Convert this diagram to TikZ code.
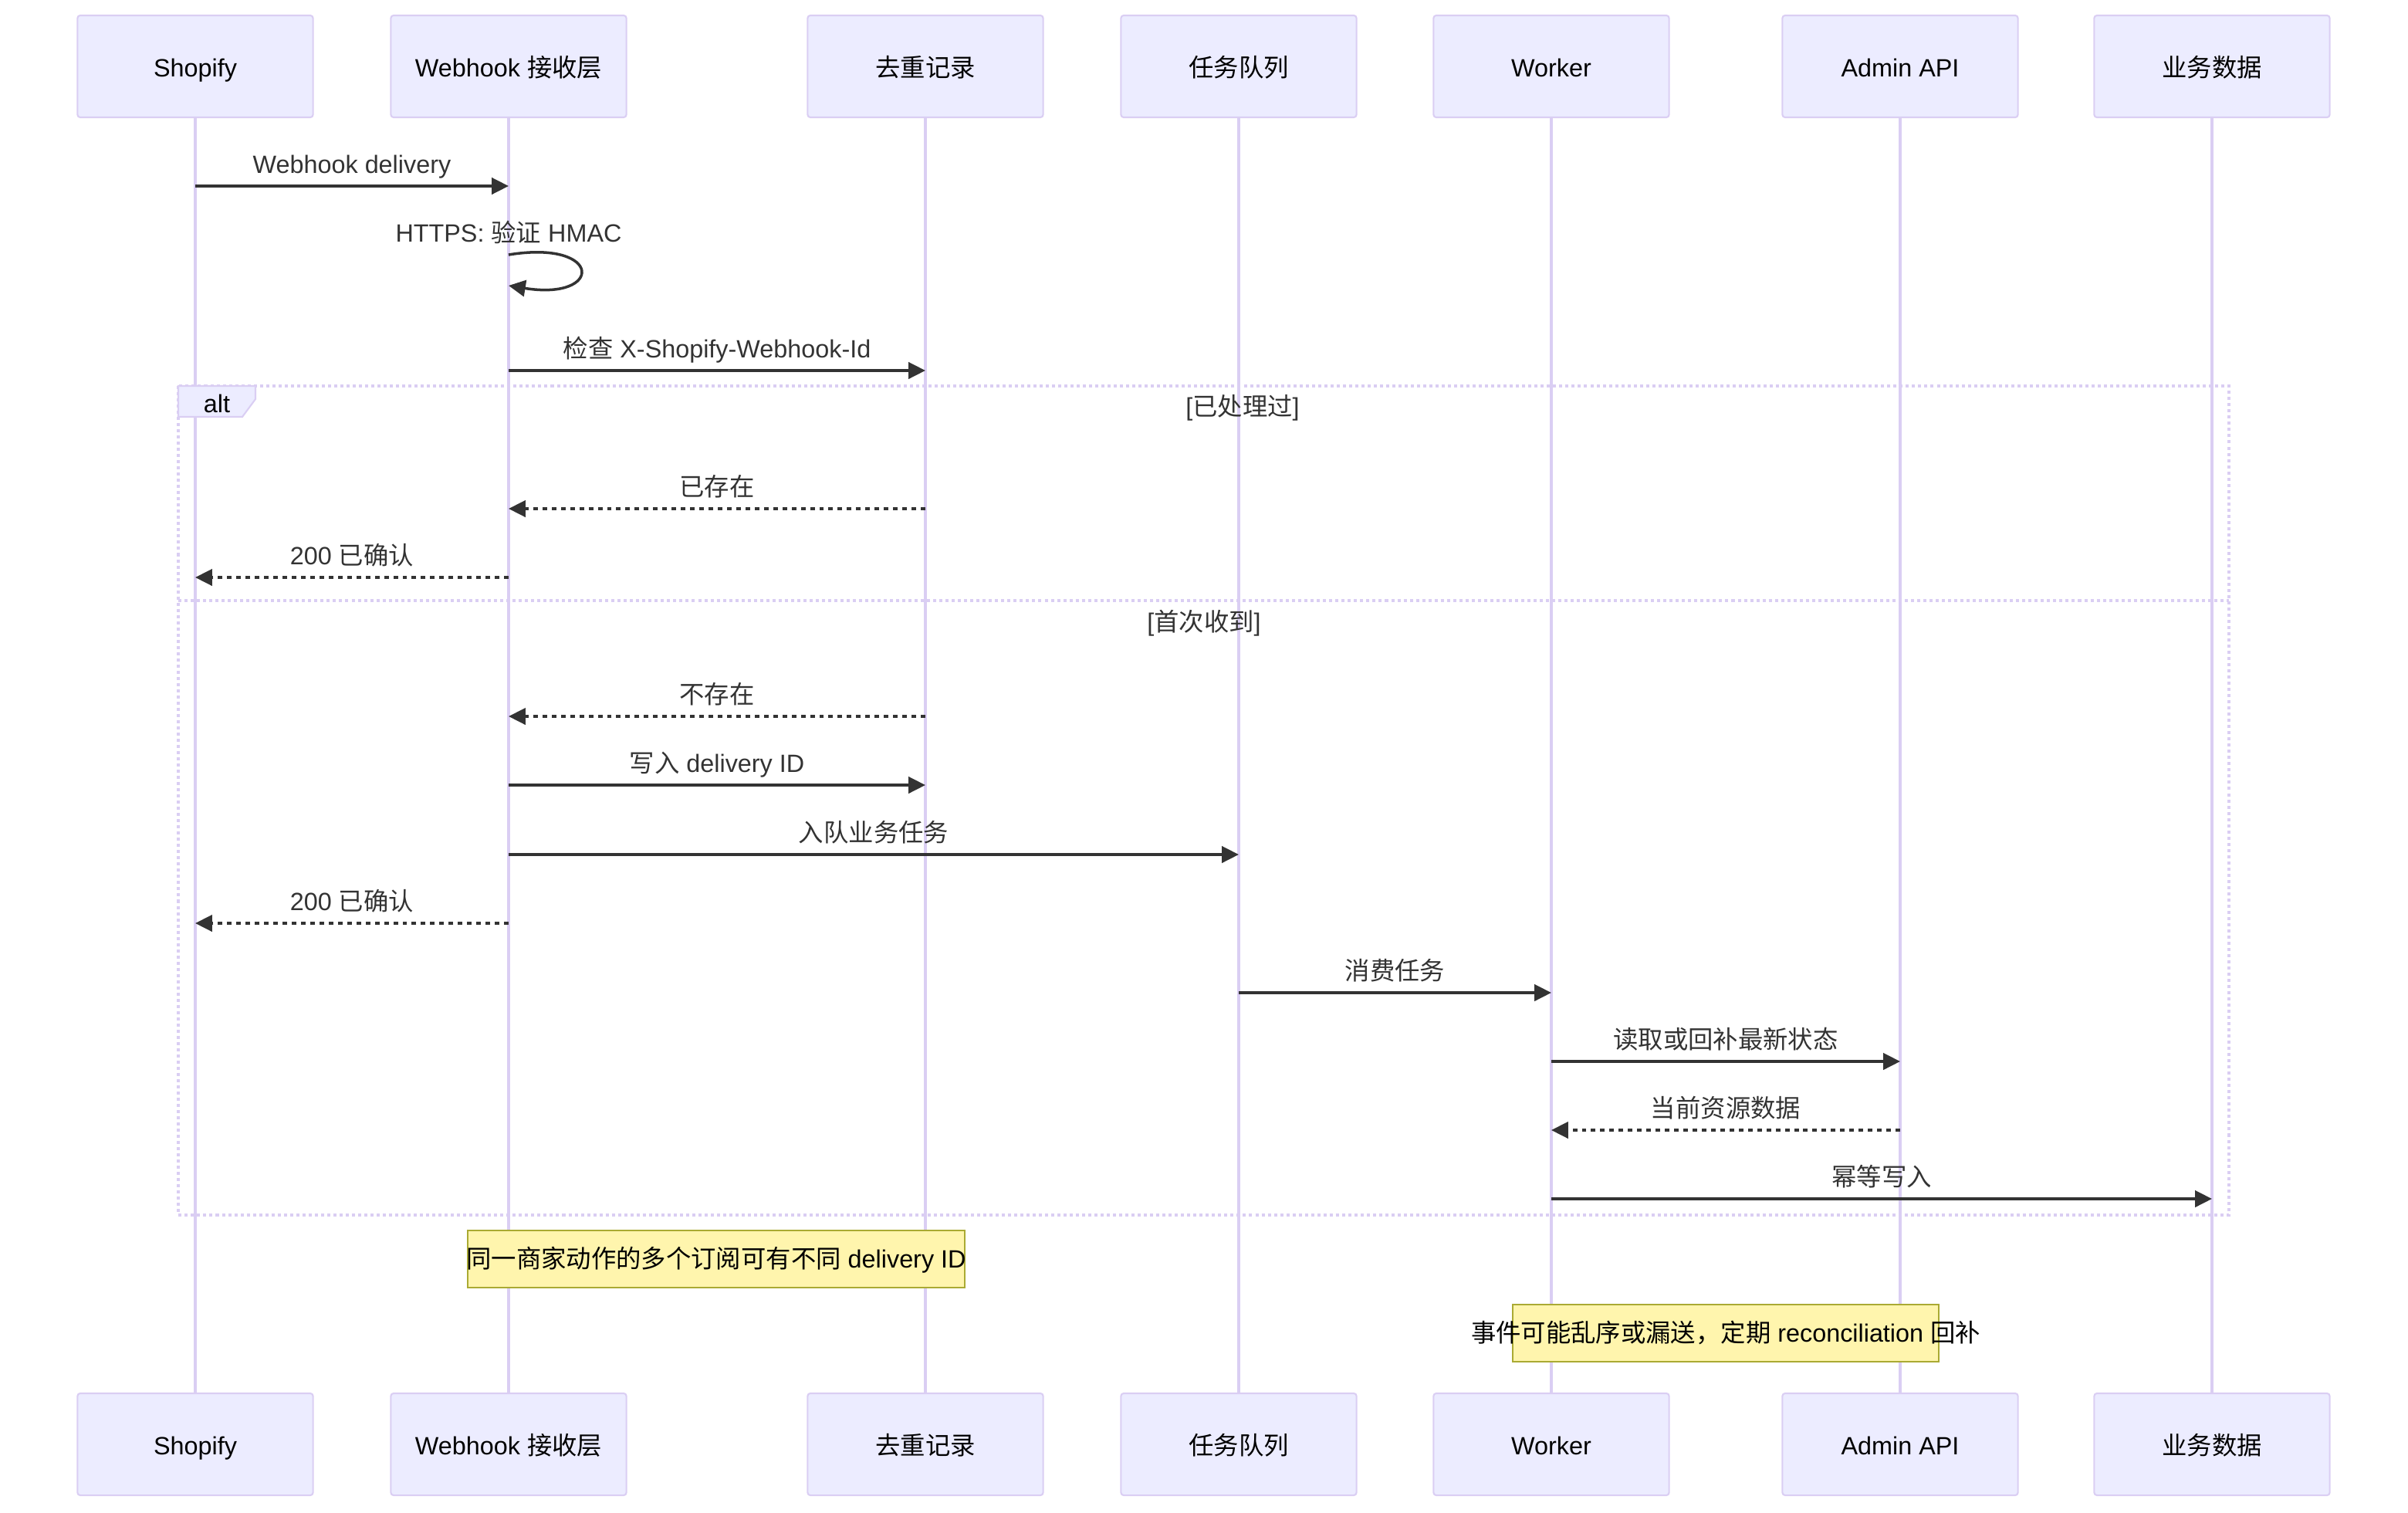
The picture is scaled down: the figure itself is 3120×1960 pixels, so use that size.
\documentclass[tikz,border=0pt]{standalone}
\usepackage{fontspec}
\setmainfont{Liberation Sans}
\newfontfamily\cjk{Noto Sans CJK SC}
\usetikzlibrary{arrows.meta}
\definecolor{actfill}{HTML}{ECECFF}
\definecolor{actline}{HTML}{DACEF3}
\definecolor{msgcol}{HTML}{333333}
\definecolor{notefill}{HTML}{FFF5AD}
\definecolor{noteline}{HTML}{AAAA33}
\newcommand{\han}[1]{{\cjk #1}}
\tikzset{
  txt/.style={inner sep=0pt, text height=6.6pt, text depth=0pt},
  actor/.style={draw=actline, fill=actfill, line width=0.6pt, rounded corners=1pt,
    minimum width=3.05cm, minimum height=1.32cm, txt, text height=7.8pt},
  lifeline/.style={draw=actline, line width=1pt},
  msg/.style={draw=msgcol, line width=1pt, -{Triangle[length=6.2pt,width=6pt]}},
  reply/.style={msg, dash pattern=on 1.7pt off 1.7pt},
  msglabel/.style={text=msgcol, txt, yshift=0.28cm},
  altline/.style={draw=actline, line width=1.1pt, dash pattern=on 1.14pt off 1.14pt},
  notebox/.style={draw=noteline, fill=notefill, line width=0.6pt,
    minimum height=0.74cm, inner sep=0pt},
}
\begin{document}
\begin{tikzpicture}[x=0.01cm, y=-0.01cm, font=\fontsize{9.2pt}{11pt}\selectfont]
  \useasboundingbox (0,0) rectangle (3120,1960);

  % Teilnehmer oben und unten, dazu die Lebenslinien
  \foreach \nm/\x/\txt in {shopify/253/Shopify, webhook/659/Webhook \han{接收层},
      dedup/1199/\han{去重记录}, queue/1605/\han{任务队列}, worker/2010/Worker,
      admin/2462/Admin API, bizdata/2866/\han{业务数据}} {
    \node[actor] (\nm) at (\x,86) {\txt};
    \node[actor] (\nm-b) at (\x,1871) {\txt};
    \draw[lifeline] (\nm) -- (\nm-b);
  }

  % Hoehen der Nachrichten
  \coordinate (m1) at (0,241);
  \coordinate (m2) at (0,330);
  \coordinate (m2e) at (0,370);
  \coordinate (m3) at (0,480);
  \coordinate (m4) at (0,659);
  \coordinate (m5) at (0,748);
  \coordinate (sep) at (0,778);
  \coordinate (m6) at (0,928);
  \coordinate (m7) at (0,1017);
  \coordinate (m8) at (0,1107);
  \coordinate (m9) at (0,1196);
  \coordinate (m10) at (0,1286);
  \coordinate (m11) at (0,1375);
  \coordinate (m12) at (0,1464);
  \coordinate (m13) at (0,1553);

  % alt-Rahmen
  \coordinate (altNW) at (231,500);
  \coordinate (altSE) at (2888,1574);
  \draw[altline] (altNW) rectangle (altSE);
  \draw[altline] (altNW |- sep) -- (altSE |- sep);
  \draw[draw=actline, fill=actfill, line width=0.6pt] (altNW) -- ++(100,0) -- ++(0,17)
    -- ++(-17,23) -- ++(-83,0) -- cycle;
  \node[txt] (altlbl) at (281,523) {alt};
  \node[text=msgcol, txt] (cond1) at (1610,527) {[\han{已处理过}]};
  \node[text=msgcol, txt] (cond2) at (1560,806) {[\han{首次收到}]};

  \draw[msg] (shopify |- m1) -- node[msglabel] (l1) {Webhook delivery} (webhook |- m1);
  \draw[msg] (webhook |- m2) node[msglabel] (l2) {HTTPS: \han{验证} HMAC}
    .. controls +(123,-20) and +(123,20) .. (webhook |- m2e);
  \draw[msg] (webhook |- m3) -- node[msglabel] (l3) {\han{检查} X-Shopify-Webhook-Id} (dedup |- m3);
  \draw[reply] (dedup |- m4) -- node[msglabel] (l4) {\han{已存在}} (webhook |- m4);
  \draw[reply] (webhook |- m5) -- node[msglabel] (l5) {200 \han{已确认}} (shopify |- m5);
  \draw[reply] (dedup |- m6) -- node[msglabel] (l6) {\han{不存在}} (webhook |- m6);
  \draw[msg] (webhook |- m7) -- node[msglabel] (l7) {\han{写入} delivery ID} (dedup |- m7);
  \draw[msg] (webhook |- m8) -- node[msglabel] (l8) {\han{入队业务任务}} (queue |- m8);
  \draw[reply] (webhook |- m9) -- node[msglabel] (l9) {200 \han{已确认}} (shopify |- m9);
  \draw[msg] (queue |- m10) -- node[msglabel] (l10) {\han{消费任务}} (worker |- m10);
  \draw[msg] (worker |- m11) -- node[msglabel] (l11) {\han{读取或回补最新状态}} (admin |- m11);
  \draw[reply] (admin |- m12) -- node[msglabel] (l12) {\han{当前资源数据}} (worker |- m12);
  \draw[msg] (worker |- m13) -- node[msglabel] (l13) {\han{幂等写入}} (bizdata |- m13);

  % Notizen
  \node[notebox, minimum width=6.43cm] (note1) at (928,1631) {};
  \node[txt] (note1txt) at (note1) {\han{同一商家动作的多个订阅可有不同} delivery ID};
  \node[notebox, minimum width=5.52cm] (note2) at (2236,1727) {};
  \node[txt] (note2txt) at (note2) {\han{事件可能乱序或漏送，定期} reconciliation \han{回补}};
\end{tikzpicture}
\end{document}
